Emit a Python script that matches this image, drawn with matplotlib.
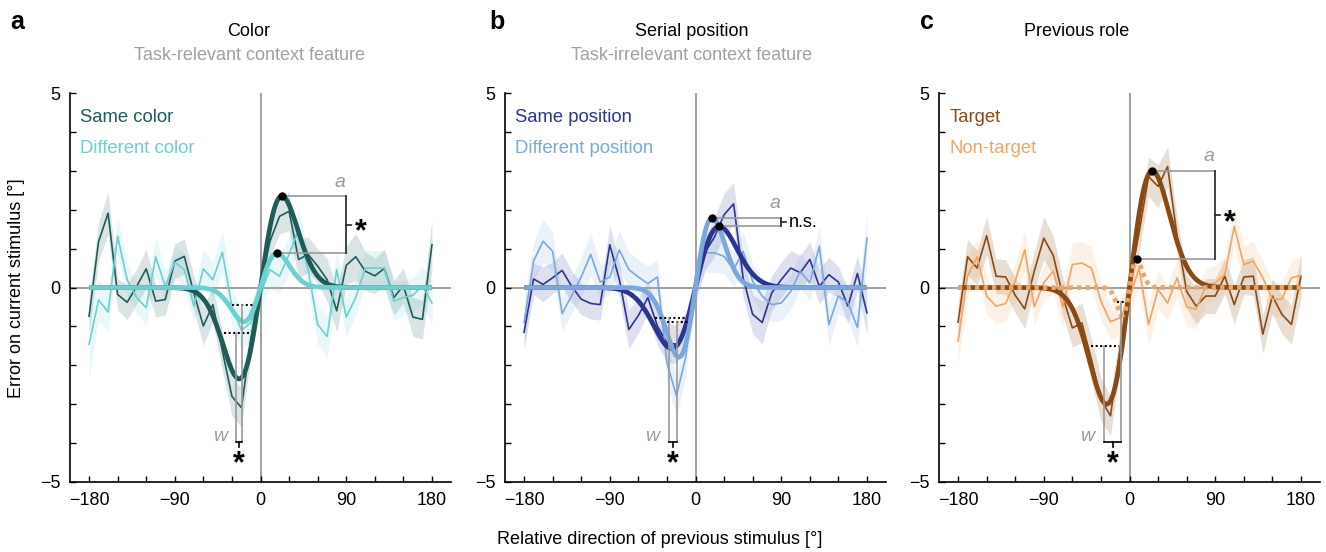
import numpy as np
import matplotlib
matplotlib.use("Agg")
import matplotlib.pyplot as plt
from matplotlib.ticker import MultipleLocator

plt.rcParams['font.family'] = ['Liberation Sans', 'DejaVu Sans']
plt.rcParams['font.size'] = 13

# ---------------- data ----------------
directions = np.arange(-180, 181, 10)

# panel a : Color
color_same = [-0.74, 1.18, 1.91, -0.18, -0.38, 0.03, 0.48, -0.35, -0.31, 0.68, 0.80, -0.14, -0.99,
              -0.44, -1.63, -2.80, -3.09, -1.30, 0.05, 1.19, 1.83, 1.96, 0.72, 0.85, 0.55, 0.20,
              -0.60, 0.57, 0.79, 0.42, 0.30, 0.49, -0.26, 0.05, -0.76, -0.82, 1.10]
color_same_sem = [0.45, 0.50, 0.55, 0.40, 0.45, 0.45, 0.50, 0.40, 0.40, 0.45, 0.45, 0.45, 0.50,
                  0.45, 0.50, 0.50, 0.50, 0.45, 0.40, 0.40, 0.45, 0.50, 0.50, 0.45, 0.45, 0.55,
                  0.55, 0.50, 0.60, 0.50, 0.45, 0.50, 0.45, 0.45, 0.50, 0.50, 0.65]
color_diff = [-1.46, -0.32, -0.63, 1.32, 0.20, -0.26, -0.52, 0.79, 0.03, 0.65, 0.46, -0.48, 0.48,
              0.20, 0.91, -0.50, -1.10, -0.90, -0.15, 0.46, 0.29, 0.85, 1.50, 0.46, -0.95, -1.26,
              0.46, -0.76, -0.26, 0.50, 0.50, 0.50, -0.35, -0.26, -0.20, 0.05, -0.40]
color_diff_sem = [0.90, 0.55, 0.50, 0.50, 0.40, 0.40, 0.45, 0.50, 0.40, 0.40, 0.45, 0.45, 0.50,
                  0.45, 0.55, 0.50, 0.50, 0.45, 0.40, 0.45, 0.45, 0.50, 0.50, 0.50, 0.50, 0.55,
                  0.50, 0.50, 0.45, 0.45, 0.45, 0.45, 0.50, 0.45, 0.45, 0.50, 0.55]

# panel b : Serial position
pos_same = [-1.15, 0.22, 0.08, 0.25, 0.44, 0.03, -0.30, -0.41, -0.44, 1.10, 0.21, -1.08, -0.72,
            -0.26, -0.99, -1.42, -1.46, -1.08, 0.00, 0.90, 1.30, 1.87, 2.15, 0.25, -0.69, -0.90,
            -0.14, 0.20, 0.50, 0.38, 0.72, 0.03, 0.33, 0.14, -0.48, 0.36, -0.65]
pos_same_sem = [0.45, 0.40, 0.45, 0.40, 0.45, 0.40, 0.40, 0.40, 0.40, 0.50, 0.45, 0.50, 0.45,
                0.40, 0.50, 0.50, 0.50, 0.45, 0.40, 0.45, 0.50, 0.55, 0.55, 0.50, 0.50, 0.55,
                0.45, 0.45, 0.45, 0.45, 0.45, 0.45, 0.45, 0.40, 0.45, 0.45, 0.55]
pos_diff = [-0.90, 0.68, 1.19, 0.93, -0.67, -0.21, 0.27, 0.85, 0.14, 0.27, 0.97, 0.46, 0.27,
            0.10, 0.27, -1.93, -2.79, -1.76, 0.30, 0.89, 0.89, 0.80, 0.46, 0.93, 0.16, -0.22,
            -0.44, -0.40, -0.10, 0.42, 0.12, 1.06, -0.95, -0.22, -0.39, -1.03, 1.27]
pos_diff_sem = [0.60, 0.50, 0.55, 0.50, 0.45, 0.45, 0.50, 0.55, 0.45, 0.45, 0.50, 0.45, 0.45,
                0.45, 0.45, 0.50, 0.55, 0.50, 0.45, 0.50, 0.50, 0.45, 0.45, 0.50, 0.45, 0.45,
                0.45, 0.45, 0.45, 0.45, 0.45, 0.50, 0.55, 0.45, 0.45, 0.50, 0.65]

# panel c : Previous role
role_target = [-0.89, 0.79, 0.50, 1.33, 0.29, 0.27, -0.20, -0.55, 0.42, 1.27, 0.82, -0.23, -1.04,
               -0.91, -1.85, -2.87, -3.30, -1.60, 0.10, 1.40, 2.85, 2.60, 3.11, 1.32, -0.10, -0.48,
               -0.22, -0.22, 0.29, -0.44, 0.27, 0.29, -1.20, -0.22, -0.69, -0.95, 0.29]
role_target_sem = [0.50, 0.45, 0.45, 0.50, 0.45, 0.45, 0.45, 0.50, 0.50, 0.55, 0.50, 0.50, 0.50,
                   0.50, 0.55, 0.55, 0.50, 0.50, 0.45, 0.50, 0.50, 0.55, 0.50, 0.50, 0.45, 0.45,
                   0.45, 0.45, 0.45, 0.50, 0.45, 0.50, 0.50, 0.45, 0.50, 0.50, 0.55]
role_nontarget = [-1.38, 0.29, 0.79, -0.22, -0.48, -0.41, 0.16, 0.97, -0.50, 0.12, 0.42, -0.50, 0.59,
                  0.63, 0.50, -0.35, -0.88, -0.78, -0.30, 0.50, -0.95, -0.05, -0.40, 0.25, -0.50,
                  -0.56, 0.03, 0.12, 0.33, 1.57, 0.59, 0.68, 0.25, -0.30, -0.30, 0.25, 0.31]
role_nontarget_sem = [0.60, 0.50, 0.45, 0.45, 0.45, 0.45, 0.50, 0.50, 0.45, 0.45, 0.55, 0.50, 0.55,
                      0.55, 0.55, 0.50, 0.45, 0.45, 0.45, 0.45, 0.55, 0.50, 0.45, 0.50, 0.50,
                      0.50, 0.45, 0.45, 0.45, 0.50, 0.50, 0.50, 0.45, 0.45, 0.45, 0.45, 0.50]

# DoG fits: (peak amplitude [deg], peak location [deg])
fit_color_same = (2.35, 22.5)
fit_color_diff = (0.88, 17.5)
fit_pos_same = (1.57, 25.0)
fit_pos_diff = (1.79, 17.5)
fit_role_target = (3.00, 24.0)
fit_role_nontarget = (0.72, 7.5)

titles = ["Color", "Serial position", "Previous role"]
subtitles = ["Task-relevant context feature", "Task-irrelevant context feature", ""]
legend_labels = [("Same color", "Different color"),
                 ("Same position", "Different position"),
                 ("Target", "Non-target")]
amp_sig = ["*", "n.s.", "*"]
width_sig = ["*", "*", "*"]
panel_letters = ["a", "b", "c"]

# ---------------- styling ----------------
colors = [("#1e5c5a", "#6ccfd0"), ("#2a3590", "#7ba7dd"), ("#8a4a14", "#f0a564")]
band_alpha = [(0.16, 0.15), (0.15, 0.15), (0.18, 0.15)]
GRAY = "#9a9a9a"

W, H = 1326, 552
fig = plt.figure(figsize=(W / 100, H / 100), dpi=100)

ax_left_px = [70, 505, 939]
title_x_px = [249, 692, 1077]
letter_x_px = [17, 497, 927]


def dog(x, amp, peak):
    u = x / peak
    return amp * u * np.exp(0.5 * (1 - u ** 2))


panels = [
    (color_same, color_same_sem, color_diff, color_diff_sem, fit_color_same, fit_color_diff),
    (pos_same, pos_same_sem, pos_diff, pos_diff_sem, fit_pos_same, fit_pos_diff),
    (role_target, role_target_sem, role_nontarget, role_nontarget_sem, fit_role_target, fit_role_nontarget),
]

xfine = np.linspace(-180, 180, 1441)

for i, (y1, s1, y2, s2, f1, f2) in enumerate(panels):
    ax = fig.add_axes([ax_left_px[i] / W, 1 - 482 / H, 381 / W, 389 / H])
    c1, c2 = colors[i]
    a1, a2 = band_alpha[i]
    y1 = np.array(y1); y2 = np.array(y2); s1 = np.array(s1); s2 = np.array(s2)

    ax.axhline(0, color=GRAY, lw=1.3, zorder=1)
    ax.axvline(0, color=GRAY, lw=1.3, zorder=1)

    ax.fill_between(directions, y1 - s1, y1 + s1, color=c1, alpha=a1, lw=0, zorder=0.5)
    ax.fill_between(directions, y2 - s2, y2 + s2, color=c2, alpha=a2, lw=0, zorder=0.5)
    ax.plot(directions, y1, color=c1, lw=1.2, zorder=2)
    ax.plot(directions, y2, color=c2, lw=1.2, zorder=2)

    fit1 = dog(xfine, *f1)
    fit2 = dog(xfine, *f2)
    ax.plot(xfine, fit1, color=c1, lw=3.4, zorder=3, solid_capstyle='butt')
    if i == 2:
        ax.plot(xfine, fit2, color=c2, lw=3.4, zorder=3.5, linestyle=(0, (0.9, 0.9)))
    else:
        ax.plot(xfine, fit2, color=c2, lw=3.4, zorder=3.5, solid_capstyle='butt')

    # amplitude annotation
    (A1, p1), (A2, p2) = f1, f2
    top, bot = max(A1, A2), min(A1, A2)
    ax.plot([p1, 90], [A1, A1], color=GRAY, lw=1.2, zorder=4)
    ax.plot([p2, 90], [A2, A2], color=GRAY, lw=1.2, zorder=4)
    ax.plot([90, 90], [bot, top], color="#222222", lw=1.2, zorder=4)
    mid = (A1 + A2) / 2
    ax.plot([90, 95], [mid, mid], color="#222222", lw=1.2, zorder=4)
    ax.plot([p1, p2], [A1, A2], 'o', color='black', ms=5, zorder=5)
    if amp_sig[i] == "*":
        ax.text(105, mid - 0.2, "*", ha='center', va='center', fontsize=22,
                fontweight='bold', zorder=5)
    else:
        ax.text(98, mid, amp_sig[i], ha='left', va='center', fontsize=13, zorder=5)
    ax.text(83, top + 0.36, "a", ha='center', va='center', fontsize=14, color=GRAY,
            style='italic', zorder=5)

    # width annotation
    yb = -3.97
    xws = []
    for (A, p) in (f1, f2):
        xw = -1.12 * p
        xws.append(xw)
        ax.plot([1.5 * xw, 0.4 * xw], [-A / 2, -A / 2], color='black', lw=1.5,
                linestyle=(0, (1, 1.2)), zorder=4)
        ax.plot([xw, xw], [-A / 2, yb], color=GRAY, lw=1.2, zorder=4)
    xl, xr = min(xws), max(xws)
    ax.plot([xl, xr], [yb, yb], color='black', lw=1.2, zorder=4)
    ax.plot([(xl + xr) / 2] * 2, [yb, yb - 0.13], color='black', lw=1.2, zorder=4)
    ax.text((xl + xr) / 2, -4.55, width_sig[i], ha='center', va='center', fontsize=22,
            fontweight='bold', zorder=5)
    ax.text(xl - 17.5, -3.83, "w", ha='center', va='center', fontsize=14, color=GRAY,
            style='italic', zorder=5)

    # legend as coloured text
    ax.text(-189, 4.38, legend_labels[i][0], color=c1, ha='left', va='center', fontsize=13.3)
    ax.text(-189, 3.58, legend_labels[i][1], color=c2, ha='left', va='center', fontsize=13.3)

    ax.set_xlim(-200, 200)
    ax.set_ylim(-5, 5)
    ax.set_xticks([-180, -90, 0, 90, 180])
    ax.set_xticklabels(["\u2212180", "\u221290", "0", "90", "180"])
    ax.xaxis.set_minor_locator(MultipleLocator(30))
    ax.set_yticks([-5, 0, 5])
    ax.set_yticklabels(["\u22125", "0", "5"])
    ax.yaxis.set_minor_locator(MultipleLocator(1))
    ax.tick_params(which='both', direction='in', length=4.5, width=1.0, labelsize=13)
    ax.tick_params(axis='y', which='both', pad=7)
    ax.tick_params(axis='x', which='both', pad=7)
    for s in ['top', 'right']:
        ax.spines[s].set_visible(False)
    for s in ['left', 'bottom']:
        ax.spines[s].set_linewidth(1.2)

    fig.text(title_x_px[i] / W, 1 - 32 / H, titles[i], ha='center', va='center', fontsize=13)
    if subtitles[i]:
        fig.text(title_x_px[i] / W, 1 - 55 / H, subtitles[i], ha='center', va='center',
                 fontsize=13, color="#a0a0a0")
    fig.text(letter_x_px[i] / W, 1 - 22 / H, panel_letters[i], ha='center', va='center',
             fontsize=18, fontweight='bold')

fig.text(17 / W, 1 - 288 / H, "Error on current stimulus [\u00b0]", rotation=90,
         ha='center', va='center', fontsize=13)
fig.text(660 / W, 1 - 540 / H, "Relative direction of previous stimulus [\u00b0]",
         ha='center', va='center', fontsize=13)

fig.savefig("out.png", dpi=100)
